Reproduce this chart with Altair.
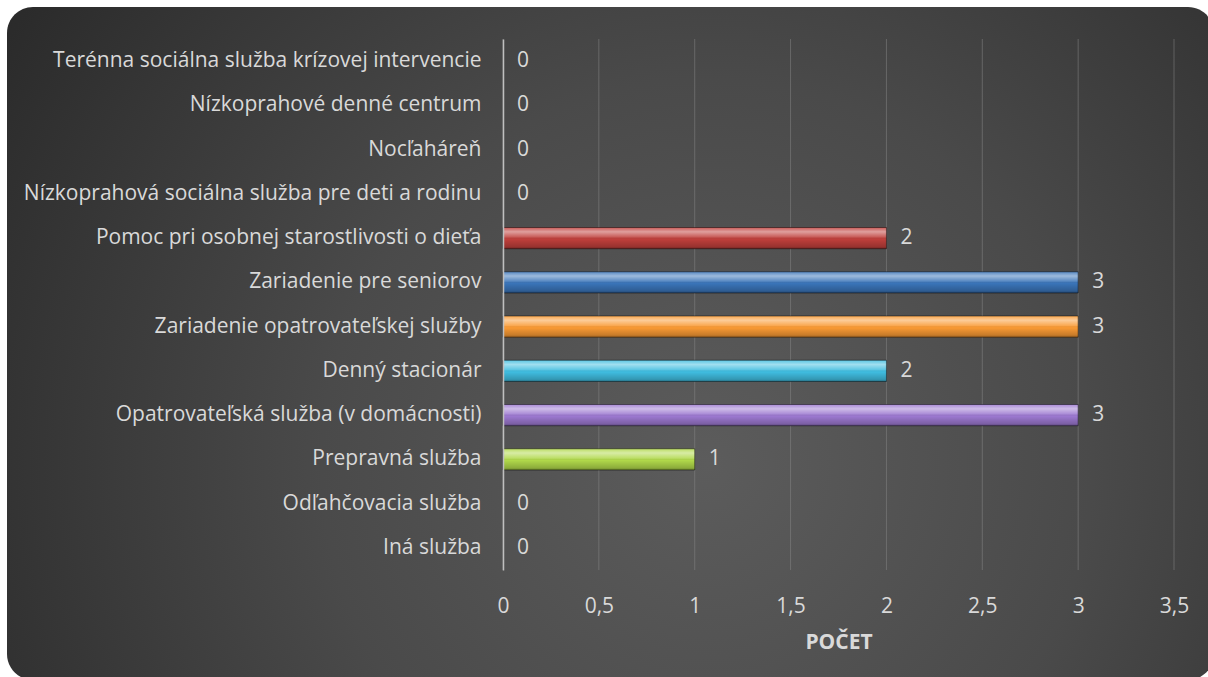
import altair as alt
import pandas as pd

categories = [
    "Terénna sociálna služba krízovej intervencie",
    "Nízkoprahové denné centrum",
    "Nocľaháreň",
    "Nízkoprahová sociálna služba pre deti a rodinu",
    "Pomoc pri osobnej starostlivosti o dieťa",
    "Zariadenie pre seniorov",
    "Zariadenie opatrovateľskej služby",
    "Denný stacionár",
    "Opatrovateľská služba (v domácnosti)",
    "Prepravná služba",
    "Odľahčovacia služba",
    "Iná služba",
]
values = [0, 0, 0, 0, 2, 3, 3, 2, 3, 1, 0, 0]
bar_colors = ["#c0504d", "#4f81bd", "#8064a2", "#9bbb59", "#bf3f3b", "#3a74b8",
              "#f99a34", "#40bde0", "#9c78d0", "#b0d84a", "#4bacc6", "#f79646"]
x_ticks = [0, 0.5, 1, 1.5, 2, 2.5, 3, 3.5]

df = pd.DataFrame({"kat": categories, "pocet": values, "farba": bar_colors})
ticks_df = pd.DataFrame({"t": x_ticks})

FONT = "Open Sans, sans-serif"
FS = 21
TXT = "#d9d9d9"

W, H = 671, 531
PL, PT = 503, 39

y_enc = alt.Y("kat:N", sort=categories, title=None,
              scale=alt.Scale(paddingInner=0.52, paddingOuter=0.26),
              axis=alt.Axis(labelFont=FONT, labelFontSize=FS, labelColor=TXT,
                            labelPadding=22, ticks=False, domain=True,
                            domainColor="#bfbfbf", domainWidth=1.5,
                            labelLimit=600, grid=False, zindex=1))
x_enc = alt.X("pocet:Q", title="POČET",
              scale=alt.Scale(domain=[0, 3.5], nice=False),
              axis=alt.Axis(values=x_ticks, format=",.1~f", labelFont=FONT,
                            labelFontSize=FS, labelColor=TXT, labelPadding=25,
                            labelFlush=False, labelOverlap=False,
                            ticks=False, domain=False, grid=False, zindex=1,
                            titleFont=FONT, titleFontSize=FS, titleColor=TXT,
                            titleFontWeight="bold", titlePadding=15))

bg = alt.Chart(pd.DataFrame({"a": [0]})).mark_rect(
    cornerRadius=26,
    color=alt.Gradient(gradient="radial",
                       stops=[alt.GradientStop(color="#5c5c5c", offset=0),
                              alt.GradientStop(color="#4a4a4a", offset=0.42),
                              alt.GradientStop(color="#242424", offset=1)],
                       x1=0.58, y1=0.6, r1=0, x2=0.58, y2=0.6, r2=0.76),
).encode(x=alt.value(-496), x2=alt.value(W + 40), y=alt.value(-32), y2=alt.value(H + 110))

grid = alt.Chart(ticks_df).mark_rule(color="#8a8a8a", opacity=0.5, strokeWidth=1).encode(
    x=alt.X("t:Q", scale=alt.Scale(domain=[0, 3.5], nice=False)),
    y=alt.value(0), y2=alt.value(H),
)

bars = alt.Chart(df).mark_bar().encode(
    x=x_enc, y=y_enc,
    color=alt.Color("farba:N", scale=None, legend=None),
)

shine = alt.Chart(df).transform_filter("datum.pocet > 0").mark_bar(
    stroke="rgba(0,0,0,0.45)", strokeWidth=1,
    color=alt.Gradient(gradient="linear", x1=0, y1=0, x2=0, y2=1,
                       stops=[alt.GradientStop(color="rgba(255,255,255,0.15)", offset=0),
                              alt.GradientStop(color="rgba(255,255,255,0.5)", offset=0.2),
                              alt.GradientStop(color="rgba(255,255,255,0.15)", offset=0.45),
                              alt.GradientStop(color="rgba(0,0,0,0.0)", offset=0.55),
                              alt.GradientStop(color="rgba(0,0,0,0.2)", offset=0.9),
                              alt.GradientStop(color="rgba(0,0,0,0.4)", offset=1)]),
).encode(x=alt.X("pocet:Q"), y=alt.Y("kat:N", sort=categories))

labels = alt.Chart(df).mark_text(
    align="left", baseline="middle", dx=14, font=FONT, fontSize=FS, color=TXT
).encode(x=alt.X("pocet:Q"), y=alt.Y("kat:N", sort=categories), text=alt.Text("pocet:Q"))

chart = alt.layer(bg, grid, bars, shine, labels).properties(
    width=W, height=H,
    autosize=alt.AutoSizeParams(type="none"),
    padding={"left": PL, "top": PT, "right": 1208 - PL - W, "bottom": 677 - PT - H},
    background="white",
).configure_view(stroke=None).configure(
    locale={"number": {"decimal": ",", "thousands": "\u00a0", "grouping": [3],
                       "currency": ["", " €"]}}
)

chart.save("out.html", embed_options={"renderer": "svg", "actions": False})
